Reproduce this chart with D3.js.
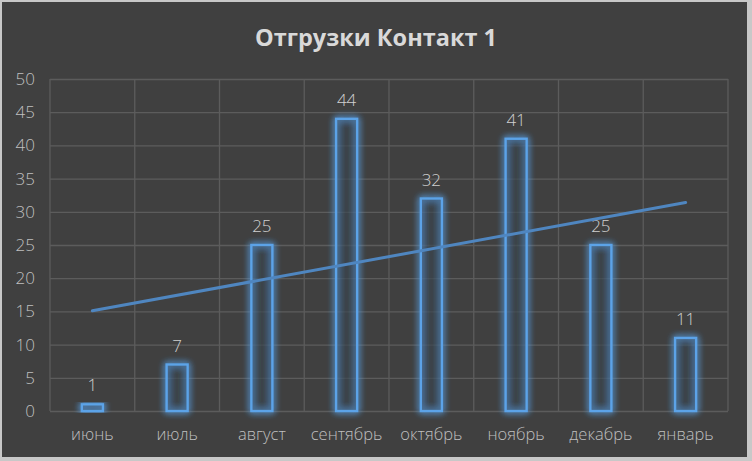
<!DOCTYPE html>
<html><head><meta charset="utf-8">
<script src="https://cdn.jsdelivr.net/npm/d3@7"></script>
<style>
html,body{margin:0;padding:0;background:#c8c8c8;}
svg{display:block;}
</style></head>
<body>
<script>
const categories = ["июнь","июль","август","сентябрь","октябрь","ноябрь","декабрь","январь"];
const values = [1,7,25,44,32,41,25,11];
const yTicks = [0,5,10,15,20,25,30,35,40,45,50];
const trendEnds = [15.1, 31.4];
const title = "Отгрузки Контакт 1";

(function(){
const W = 752, H = 461;
const svg = d3.select("body").append("svg").attr("width", W).attr("height", H);
const font = "'Open Sans', 'DejaVu Sans', sans-serif";

const defs = svg.append("defs");
const glow = defs.append("filter").attr("id","glow").attr("x","-60%").attr("y","-30%").attr("width","220%").attr("height","160%");
glow.append("feGaussianBlur").attr("in","SourceGraphic").attr("stdDeviation",3.5).attr("result","b");
const m = glow.append("feMerge");
m.append("feMergeNode").attr("in","b");
m.append("feMergeNode").attr("in","b");
m.append("feMergeNode").attr("in","SourceGraphic");

svg.append("rect").attr("x",0).attr("y",0).attr("width",W).attr("height",H).attr("fill","#c8c8c8");
svg.append("rect").attr("x",2).attr("y",2).attr("width",745).attr("height",455).attr("fill","#404040");

const pl = 50, pr = 728, pt = 79, pb = 411;
const x = d3.scaleBand().domain(categories).range([pl, pr]).paddingInner(0).paddingOuter(0);
const y = d3.scaleLinear().domain([0,50]).range([pb, pt]);

svg.append("g").selectAll("line").data(yTicks).join("line")
  .attr("x1",pl).attr("x2",pr)
  .attr("y1",d=>y(d)+0.5).attr("y2",d=>y(d)+0.5)
  .attr("stroke","#5c5c5c").attr("stroke-width",1.3);
const bounds = categories.map(c=>x(c)).concat([pr]);
svg.append("g").selectAll("line").data(bounds).join("line")
  .attr("x1",d=>d).attr("x2",d=>d)
  .attr("y1",pt).attr("y2",pb)
  .attr("stroke","#5c5c5c").attr("stroke-width",1.3);

const yAxis = d3.axisLeft(y).tickValues(yTicks).tickSize(0).tickPadding(15);
const ga = svg.append("g").attr("transform",`translate(${pl},0)`).call(yAxis);
ga.select(".domain").remove();
ga.selectAll("text").attr("fill","#bfbfbf").style("font-family",font).style("font-size","17px").style("font-weight","300");

const xAxis = d3.axisBottom(x).tickSize(0).tickPadding(17);
const gx = svg.append("g").attr("transform",`translate(0,${pb})`).call(xAxis);
gx.select(".domain").remove();
gx.selectAll("text").attr("fill","#bfbfbf").style("font-family",font).style("font-size","16.5px").style("font-weight","300");

const bw = 21;
svg.append("g").selectAll("rect").data(values).join("rect")
  .attr("x",(d,i)=>x(categories[i]) + x.bandwidth()/2 - bw/2)
  .attr("y",d=>y(d))
  .attr("width",bw)
  .attr("height",d=>pb - y(d))
  .attr("fill","rgba(60,70,80,0.3)")
  .attr("stroke","#5ba3e8").attr("stroke-width",2.4)
  .attr("filter","url(#glow)");

svg.append("g").selectAll("text").data(values).join("text")
  .attr("x",(d,i)=>x(categories[i]) + x.bandwidth()/2)
  .attr("y",d=>y(d) - 13)
  .attr("text-anchor","middle")
  .attr("fill","#d0d0d0")
  .style("font-family",font).style("font-size","17px").style("font-weight","300")
  .text(d=>d);

const first = categories[0], last = categories[categories.length-1];
svg.append("line")
  .attr("x1", x(first)+x.bandwidth()/2).attr("y1", y(trendEnds[0]))
  .attr("x2", x(last)+x.bandwidth()/2).attr("y2", y(trendEnds[1]))
  .attr("stroke","#4f86c0").attr("stroke-width",3).attr("stroke-linecap","round");

svg.append("text").attr("x",376).attr("y",46).attr("text-anchor","middle")
  .attr("fill","#d9d9d9")
  .style("font-family",font).style("font-size","23.5px").style("font-weight","bold")
  .text(title);
})();
</script>
</body></html>
